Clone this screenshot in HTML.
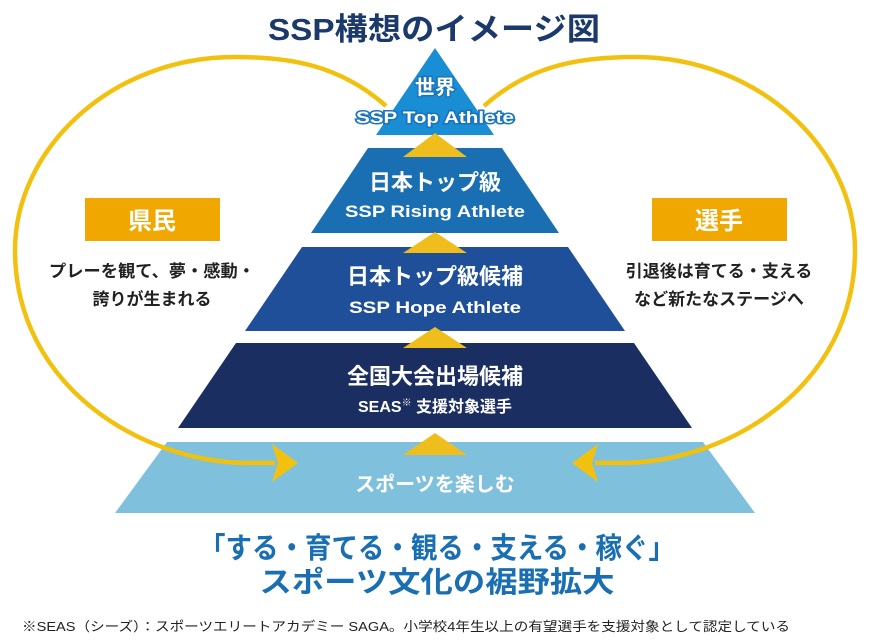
<!DOCTYPE html>
<html><head><meta charset="utf-8"><style>
html,body{margin:0;padding:0;background:#fff}
svg{display:block}
text{font-family:"Liberation Sans","Noto Sans CJK JP",sans-serif;font-weight:bold}
</style></head><body>
<svg width="870" height="644" viewBox="0 0 870 644" xmlns="http://www.w3.org/2000/svg">
<text x="434" y="40" font-size="31" fill="#1b3a6b" text-anchor="middle" textLength="332" lengthAdjust="spacingAndGlyphs">SSP構想のイメージ図</text>

<!-- pyramid -->
<polygon points="435,48 494,135 376,135" fill="#1a8ed4"/>
<polygon points="368,148 502,148 559,233 311,233" fill="#1a6fb3"/>
<polygon points="302,247 568,247 625,331 245,331" fill="#1f4f98"/>
<polygon points="236,343 634,343 692,428 178,428" fill="#1b2e61"/>
<polygon points="167,442 703,442 755,513 115,513" fill="#7fc1dc"/>

<!-- loops -->
<path d="M386,106 C340,65 290,57 235,57 C110,57 15,150 15,250 C15,385 140,463 250,463 L275,463" fill="none" stroke="#f2c10f" stroke-width="4.5"/>
<path d="M298,463 L272,444 L278,463 L272,482 Z" fill="#f2c10f"/>
<path d="M484,106 C530,65 580,57 635,57 C760,57 855,150 855,250 C855,385 730,463 620,463 L595,463" fill="none" stroke="#f2c10f" stroke-width="4.5"/>
<path d="M572,463 L598,444 L592,463 L598,482 Z" fill="#f2c10f"/>

<!-- gold triangles -->
<polygon points="435,133 467,157 403,157" fill="#efbe1c"/>
<polygon points="435,232 467,253 403,253" fill="#efbe1c"/>
<polygon points="435,327 467,348 403,348" fill="#efbe1c"/>
<polygon points="435,433 467,455 403,455" fill="#efbe1c"/>

<!-- tier texts -->
<g fill="#fff" stroke="#1a74bd" stroke-width="3" paint-order="stroke" text-anchor="middle">
<text x="435" y="94" font-size="20">世界</text>
<text x="435" y="123" font-size="17" textLength="158" lengthAdjust="spacingAndGlyphs">SSP Top Athlete</text>
</g>
<g fill="#fff" text-anchor="middle">
<text x="435" y="190" font-size="22">日本トップ級</text>
<text x="435" y="217" font-size="17" textLength="180" lengthAdjust="spacingAndGlyphs">SSP Rising Athlete</text>
<text x="435" y="284" font-size="22">日本トップ級候補</text>
<text x="435" y="313" font-size="17" textLength="172" lengthAdjust="spacingAndGlyphs">SSP Hope Athlete</text>
<text x="435" y="384" font-size="22">全国大会出場候補</text>
<text x="435" y="412" font-size="16">SEAS<tspan font-size="10" dy="-6">※</tspan><tspan dy="6"> 支援対象選手</tspan></text>
<text x="435" y="491" font-size="20">スポーツを楽しむ</text>
</g>

<!-- side labels -->
<rect x="85" y="198" width="135" height="43" fill="#f0a700"/>
<text x="152" y="229" font-size="24" fill="#fff" text-anchor="middle">県民</text>
<text x="152" y="277" font-size="17" fill="#222" text-anchor="middle" textLength="206" lengthAdjust="spacingAndGlyphs">プレーを観て、夢・感動・</text>
<text x="152" y="305" font-size="17" fill="#222" text-anchor="middle">誇りが生まれる</text>

<rect x="652" y="198" width="135" height="43" fill="#f0a700"/>
<text x="719" y="229" font-size="24" fill="#fff" text-anchor="middle">選手</text>
<text x="719" y="277" font-size="17" fill="#222" text-anchor="middle">引退後は育てる・支える</text>
<text x="719" y="305" font-size="17" fill="#222" text-anchor="middle">など新たなステージへ</text>

<!-- bottom -->
<text x="437" y="558" font-size="29" fill="#1a6fb3" text-anchor="middle" textLength="476" lengthAdjust="spacingAndGlyphs">「する・育てる・観る・支える・稼ぐ」</text>
<text x="437" y="592" font-size="29" fill="#1a6fb3" text-anchor="middle" textLength="355" lengthAdjust="spacingAndGlyphs">スポーツ文化の裾野拡大</text>
<text x="22" y="631" font-size="13" fill="#222" textLength="768" lengthAdjust="spacingAndGlyphs" style="font-weight:normal">※SEAS（シーズ）：スポーツエリートアカデミー SAGA。小学校4年生以上の有望選手を支援対象として認定している</text>
</svg>
</body></html>
